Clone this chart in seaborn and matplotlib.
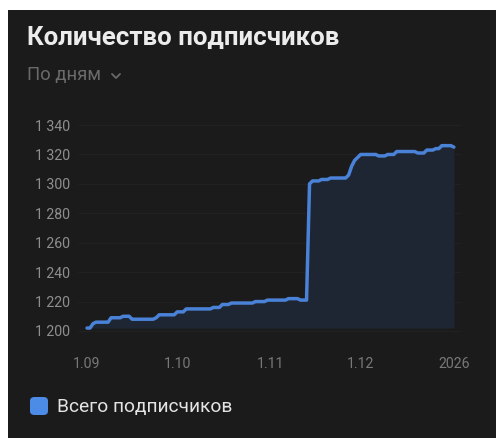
import matplotlib
matplotlib.use("Agg")
import matplotlib.pyplot as plt
import matplotlib.dates as mdates
from matplotlib.patches import Rectangle, FancyBboxPatch
from matplotlib.lines import Line2D
import matplotlib.ticker as mticker
import seaborn as sns
import pandas as pd
import numpy as np

# ---------------- data ----------------
start_date = "2025-09-01"
end_date = "2026-01-01"
subscribers = [
    1202, 1202, 1205, 1206, 1206, 1206, 1206, 1206, 1209, 1209,
    1209, 1209, 1210, 1210, 1210, 1208, 1208, 1208, 1208, 1208,
    1208, 1208, 1208, 1209, 1211, 1211, 1211, 1211, 1211, 1211,
    1213, 1213, 1213, 1215, 1215, 1215, 1215, 1215, 1215, 1215,
    1215, 1215, 1216, 1216, 1216, 1218, 1218, 1218, 1219, 1219,
    1219, 1219, 1219, 1219, 1219, 1219, 1220, 1220, 1220, 1220,
    1221, 1221, 1221, 1221, 1221, 1221, 1221, 1222, 1222, 1222,
    1222, 1221, 1221, 1221, 1300, 1302, 1302, 1302, 1303, 1303,
    1303, 1304, 1304, 1304, 1304, 1304, 1304, 1306, 1312, 1316,
    1318, 1320, 1320, 1320, 1320, 1320, 1320, 1319, 1319, 1319,
    1320, 1320, 1320, 1322, 1322, 1322, 1322, 1322, 1322, 1322,
    1321, 1321, 1321, 1323, 1323, 1323, 1324, 1324, 1326, 1326,
    1326, 1326, 1325,
]
y_ticks = [1200, 1220, 1240, 1260, 1280, 1300, 1320, 1340]
x_tick_dates = ["2025-09-01", "2025-10-01", "2025-11-01", "2025-12-01", "2026-01-01"]
x_tick_labels = ["1.09", "1.10", "1.11", "1.12", "2026"]
title = "Количество подписчиков"
subtitle = "По дням"
legend_label = "Всего подписчиков"

dates = pd.date_range(start_date, end_date, freq="D")
df = pd.DataFrame({"date": dates, "value": subscribers})

# ---------------- style ----------------
W, H = 496, 438
DPI = 100
BG = "#1b1b1b"
LINE = "#4a82d8"
FILL = "#1e2633"

sns.set_theme(style="dark")
plt.rcParams["font.family"] = ["Roboto", "DejaVu Sans"]

fig = plt.figure(figsize=(W / DPI, H / DPI), dpi=DPI, facecolor="white")
fig.patches.append(Rectangle((8 / W, 0), 1 - 8 / W, 1 - 10 / H,
                             transform=fig.transFigure, facecolor=BG,
                             edgecolor="none", zorder=-10))

def px(x0, y0, x1, y1):
    return [x0 / W, 1 - y1 / H, (x1 - x0) / W, (y1 - y0) / H]

ax = fig.add_axes(px(78, 117.7, 462, 335.4))
ax.set_zorder(5)
ax.set_facecolor(BG)
ax.patch.set_alpha(0)

x0 = pd.Timestamp(start_date) - pd.Timedelta(days=3)
x1 = pd.Timestamp(end_date) + pd.Timedelta(days=2.7)

ax.fill_between(df["date"], df["value"], min(subscribers),
                color=FILL, linewidth=0, zorder=1)
sns.lineplot(data=df, x="date", y="value", ax=ax, color=LINE,
             linewidth=2.5, zorder=3, legend=False)

ax.set_xlim(x0, x1)
ax.set_ylim(1197, 1345)
ax.set_yticks(y_ticks)
ax.yaxis.set_major_formatter(mticker.FuncFormatter(
    lambda v, p: f"{int(v):,}".replace(",", " ")))
ax.set_xticks(pd.to_datetime(x_tick_dates))
ax.set_xticklabels(x_tick_labels)
ax.grid(axis="y", color="#212121", linewidth=0.8)
ax.grid(axis="x", visible=False)
for s in ax.spines.values():
    s.set_visible(False)
ax.tick_params(axis="y", length=0, pad=5.8, labelsize=10.2, labelcolor="#8e8e8e")
ax.tick_params(axis="x", length=0, pad=15.5, labelsize=10.2, labelcolor="#787878")
ax.set_xlabel("")
ax.set_ylabel("")

# title / subtitle
fig.text(27 / W, 1 - 45 / H, title, color="#ececec", fontsize=18.6,
         fontweight="bold", ha="left", va="baseline")
fig.text(27 / W, 1 - 80 / H, subtitle, color="#6a6a6a", fontsize=13.3,
         ha="left", va="baseline")
# chevron
cx, cy = 116, 76
fig.lines.append(Line2D([(cx - 4) / W, cx / W, (cx + 4) / W],
                        [1 - (cy - 2) / H, 1 - (cy + 2) / H, 1 - (cy - 2) / H],
                        transform=fig.transFigure, color="#6a6a6a",
                        linewidth=1.3, solid_capstyle="round"))

# legend
fig.patches.append(FancyBboxPatch((30 / W, 1 - 415 / H), 18 / W, 18 / H,
                                  boxstyle="round,pad=0,rounding_size=0.009",
                                  transform=fig.transFigure,
                                  facecolor="#4c8be6", edgecolor="none"))
fig.text(57 / W, 1 - 412 / H, legend_label, color="#e4e4e4", fontsize=13.8,
         ha="left", va="baseline")

fig.savefig("out.png", dpi=DPI, facecolor="white")
